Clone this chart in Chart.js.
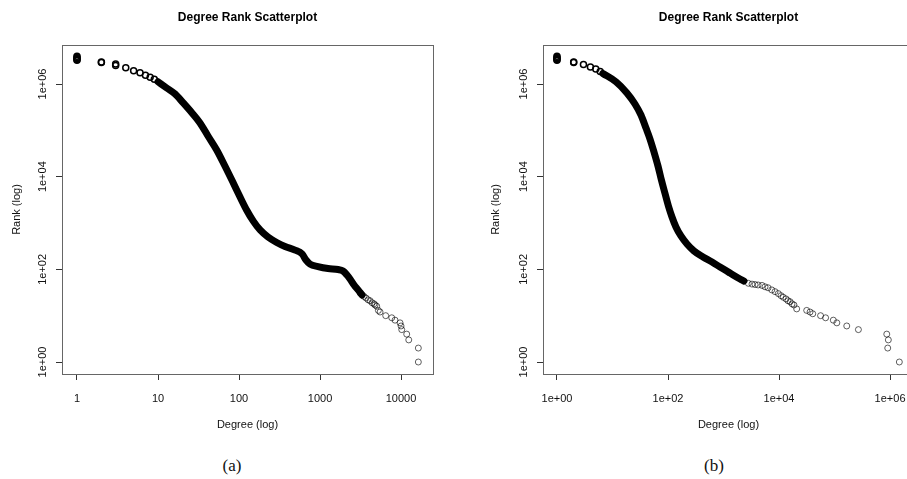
<!DOCTYPE html>
<html>
<head>
<meta charset="utf-8">
<title>Degree Rank Scatterplot</title>
<script src="https://cdn.jsdelivr.net/npm/chart.js@4.4.1/dist/chart.umd.min.js"></script>
<style>
    html, body { margin: 0; padding: 0; background: #fff; }
    #page { position: relative; width: 907px; height: 479px; overflow: hidden; }
    #chart-a { position: absolute; left: 0; top: 0; }
    #chart-b { position: absolute; left: 479px; top: 0; }
    .caption {
        position: absolute;
        top: 456px;
        font-family: 'Liberation Serif', 'DejaVu Serif', serif;
        font-size: 17px;
        color: #111;
        transform: translateX(-50%);
    }
</style>
</head>
<body>
<div id="page">
    <canvas id="chart-a" width="453" height="445"></canvas>
    <canvas id="chart-b" width="455" height="445"></canvas>
    <div class="caption" style="left: 232px">(a)</div>
    <div class="caption" style="left: 714px">(b)</div>
</div>
<script>
// tick values and labels
const xTicksA = [1, 10, 100, 1000, 10000];
const xLabelsA = ['1', '10', '100', '1000', '10000'];
const xTicksB = [1, 100, 10000, 1000000];
const xLabelsB = ['1e+00', '1e+02', '1e+04', '1e+06'];
const yTicks = [1, 100, 10000, 1000000];
const yLabels = ['1e+00', '1e+02', '1e+04', '1e+06'];

// (a) low degrees, drawn as separate circles
const degHeadA = [1, 1, 1, 1, 1, 2, 2, 3, 3, 4, 5, 6, 7, 8, 9];
const rankHeadA = [3950000, 3750000, 3550000, 3400000, 3250000, 3000000, 2900000, 2700000, 2500000, 2250000, 1940000, 1750000, 1540000, 1400000, 1260000];
// (a) dense part of the curve
const degBandA = [10, 12.8, 16.2, 20.5, 26.3, 33, 41.4, 53, 67, 85, 103, 124, 150, 182, 228, 292, 370, 492, 600, 671, 753, 944, 1255, 1670, 1920, 2150, 2345, 2630, 2950, 3300];
const rankBandA = [1120000, 820000, 610000, 390000, 237000, 144000, 75500, 37700, 17000, 7300, 3640, 1910, 1100, 710, 499, 380, 311, 260, 215, 159, 130, 115, 104, 99, 92, 75.5, 62, 46, 36, 28];
// (a) high degrees
const degTailA = [3120, 3300, 3490, 3700, 3920, 4140, 4390, 4640, 4780, 5010, 5250, 5510, 6470, 7680, 8430, 9720, 10000, 10200, 11750, 12450, 16350, 16350];
const rankTailA = [31, 28, 26, 24, 22, 21, 19, 18, 17, 16, 13, 12, 10, 9, 8, 7, 6, 5, 4, 3, 2, 1];

// (b)
const degHeadB = [1, 1, 1, 1, 1, 2, 2, 3, 4, 5, 6];
const rankHeadB = [3950000, 3750000, 3550000, 3400000, 3250000, 3000000, 2900000, 2640000, 2330000, 2110000, 1860000];
const degBandB = [6.7, 11.6, 18.2, 25.4, 32.6, 40.1, 47.4, 56, 66, 76, 88, 102, 118, 139, 171, 220, 294, 427, 621, 865, 1310, 1980, 2340];
const rankBandB = [1690000, 1110000, 640000, 370000, 214000, 112000, 65000, 34000, 17000, 8500, 4400, 2300, 1350, 820, 525, 352, 249, 185, 144, 112, 83, 62, 56];
const degTailB = [2800, 3260, 3700, 4200, 4940, 5600, 6340, 7400, 8470, 9700, 10860, 11900, 13370, 14500, 15800, 17150, 18600, 20800, 31500, 36200, 40500, 56000, 69000, 95000, 110000, 166000, 269000, 873000, 931000, 908000, 1470000];
const rankTailB = [50, 48, 47, 46, 45, 42, 40, 36, 33, 30, 27, 25, 23, 21, 20, 18, 17, 14, 13, 12, 11, 10, 9, 8, 7, 6, 5, 4, 3, 2, 1];

Chart.defaults.font.family = "'Liberation Sans', Arial, sans-serif";
Chart.defaults.color = '#111';

const toPoints = (xs, ys) => xs.map((x, i) => ({x: x, y: ys[i]}));

// R style box round the plot region
const boxPlugin = {
    id: 'box',
    afterDraw(chart) {
        const ctx = chart.ctx;
        const a = chart.chartArea;
        ctx.save();
        ctx.strokeStyle = '#666';
        ctx.lineWidth = 1;
        ctx.strokeRect(Math.round(a.left) + 0.5, Math.round(a.top) + 0.5,
            Math.round(a.right - a.left), Math.round(a.bottom - a.top));
        ctx.restore();
    }
};

function makeDatasets(degHead, rankHead, degBand, rankBand, degTail, rankTail) {
    return [
        {
            data: toPoints(degBand, rankBand),
            showLine: true,
            borderColor: '#000',
            borderWidth: 7,
            borderCapStyle: 'round',
            borderJoinStyle: 'round',
            cubicInterpolationMode: 'monotone',
            pointRadius: 0,
        },
        {
            data: toPoints(degHead, rankHead),
            borderColor: '#000',
            backgroundColor: 'rgba(0,0,0,0)',
            borderWidth: 1.5,
            pointRadius: 3,
        },
        {
            data: toPoints(degTail, rankTail),
            borderColor: 'rgba(0,0,0,0.62)',
            backgroundColor: 'rgba(0,0,0,0)',
            borderWidth: 1,
            pointRadius: 3,
        }
    ];
}

function makeOptions(xMin, xMax, xTicks, xLabels, yAxisWidth) {
    return {
        responsive: false,
        animation: false,
        events: [],
        layout: { padding: { left: 0, right: 20, top: 0, bottom: 0 } },
        scales: {
            x: {
                type: 'logarithmic',
                min: xMin,
                max: xMax,
                bounds: 'data',
                afterBuildTicks: s => { s.ticks = xTicks.map(v => ({value: v})); },
                afterFit: s => { s.height = 71; },
                ticks: {
                    autoSkip: false,
                    minRotation: 0,
                    maxRotation: 0,
                    padding: 12,
                    color: '#111',
                    font: { size: 11 },
                    callback: (v, i) => xLabels[i]
                },
                grid: { display: true, drawOnChartArea: false, drawTicks: true, tickLength: 6, color: '#333' },
                border: { display: true, color: '#333' },
                title: {
                    display: true,
                    text: 'Degree (log)',
                    color: '#111',
                    font: { size: 11 },
                    padding: { top: 0, bottom: 13.4 }
                }
            },
            y: {
                type: 'logarithmic',
                min: 0.551,
                max: 6950000,
                bounds: 'data',
                afterBuildTicks: s => { s.ticks = yTicks.map(v => ({value: v})); },
                afterFit: s => { s.width = yAxisWidth; },
                ticks: {
                    autoSkip: false,
                    minRotation: 90,
                    maxRotation: 90,
                    crossAlign: 'center',
                    padding: -2,
                    color: '#111',
                    font: { size: 11 },
                    callback: (v, i) => yLabels[i]
                },
                grid: { display: true, drawOnChartArea: false, drawTicks: true, tickLength: 6, color: '#333' },
                border: { display: true, color: '#333' },
                title: {
                    display: true,
                    text: 'Rank (log)',
                    color: '#111',
                    font: { size: 11 },
                    padding: { top: 10.4, bottom: 0 }
                }
            }
        },
        plugins: {
            legend: { display: false },
            tooltip: { enabled: false },
            title: {
                display: true,
                text: 'Degree Rank Scatterplot',
                fullSize: false,
                color: '#000',
                font: { size: 12, weight: 'bold' },
                padding: { top: 10, bottom: 20.6 }
            }
        }
    };
}

const chart_a = new Chart(document.getElementById('chart-a'), {
    type: 'scatter',
    data: { datasets: makeDatasets(degHeadA, rankHeadA, degBandA, rankBandA, degTailA, rankTailA) },
    options: makeOptions(0.653, 24800, xTicksA, xLabelsA, 62),
    plugins: [boxPlugin]
});

const chart_b = new Chart(document.getElementById('chart-b'), {
    type: 'scatter',
    data: { datasets: makeDatasets(degHeadB, rankHeadB, degBandB, rankBandB, degTailB, rankTailB) },
    options: makeOptions(0.56, 2700000, xTicksB, xLabelsB, 64),
    plugins: [boxPlugin]
});
</script>
</body>
</html>
